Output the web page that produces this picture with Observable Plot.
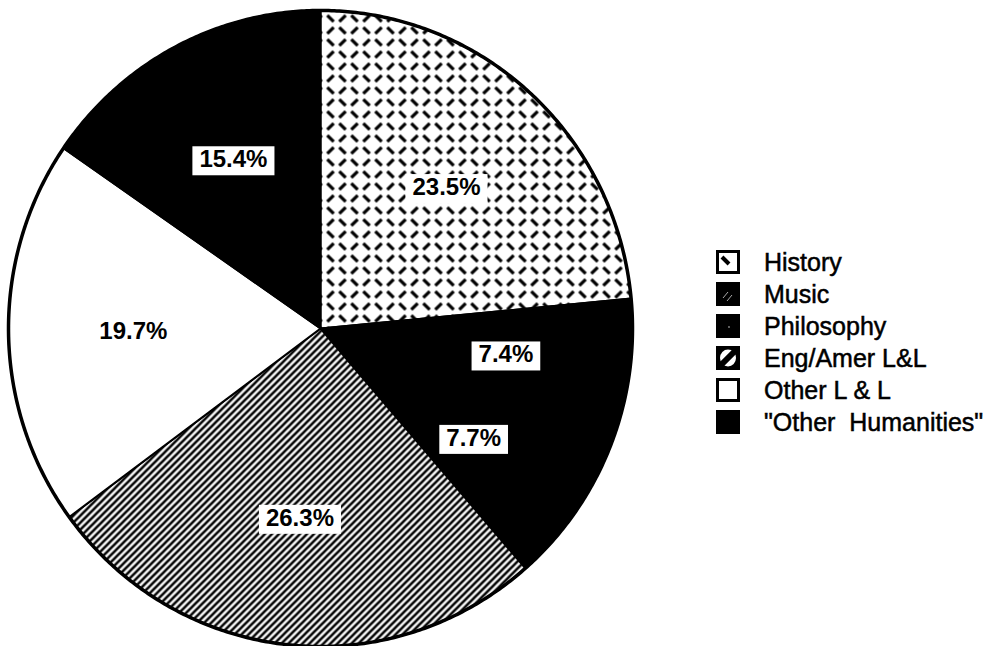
<!DOCTYPE html>
<html><head><meta charset="utf-8">
<script src="https://cdn.jsdelivr.net/npm/d3@7"></script>
<script src="https://cdn.jsdelivr.net/npm/@observablehq/plot@0.6"></script>
<style>
body{margin:0;background:#fff;}
#wrap{position:relative;width:989px;height:646px;overflow:hidden;background:#fff;}
#wrap > svg{position:absolute;left:0;top:0;}
#legend{position:absolute;left:716px;top:246px;font-family:"Liberation Sans",Arial,sans-serif;font-size:25px;color:#000;-webkit-text-stroke:0.5px #000;}
.row{display:flex;align-items:center;height:32px;white-space:pre;}
.row svg{width:24px;height:24px;margin-right:24px;flex:none;}
</style></head>
<body>
<svg width="0" height="0" style="position:absolute">
<defs>
<pattern id="hist" patternUnits="userSpaceOnUse" width="24" height="24">
<rect width="24" height="24" fill="white"/>
<path d="M2.8,2.8L9.2,9.2 M14.8,9.2L21.2,2.8 M2.8,21.2L9.2,14.8 M14.8,14.8L21.2,21.2" stroke="black" stroke-width="3.2"/>
</pattern>
<pattern id="hatch" patternUnits="userSpaceOnUse" width="7" height="7">
<rect width="7" height="7" fill="white"/>
<path d="M0,7L7,0 M-1,1L1,-1 M6,8L8,6" stroke="black" stroke-width="2.6"/>
</pattern>
</defs></svg>
<div id="wrap"><div id="legend"></div></div>
<script>
// ---- data ----
const categories = ["History", "Music", "Philosophy", "Eng/Amer L&L", "Other L & L", "\"Other  Humanities\""];
const shares = [23.5, 7.4, 7.7, 26.3, 19.7, 15.4];
const labels = ["23.5%", "7.4%", "7.7%", "26.3%", "19.7%", "15.4%"];

// ---- styles ----
const sliceFill = {
  "History": "url(#hist)",
  "Music": "black",
  "Philosophy": "black",
  "Eng/Amer L&L": "url(#hatch)",
  "Other L & L": "white",
  "\"Other  Humanities\"": "black"
};
const swatch = {
  "History": '<rect x="1.5" y="1.5" width="21" height="21" fill="white" stroke="black" stroke-width="3"/><path d="M6,7L13,14" stroke="black" stroke-width="4"/>',
  "Music": '<rect width="24" height="24" fill="black"/><path d="M7,16L12,10 M11,19L16,13" stroke="#aaa" stroke-width="1"/>',
  "Philosophy": '<rect width="24" height="24" fill="black"/><circle cx="13" cy="13" r="0.9" fill="#888"/>',
  "Eng/Amer L&L": '<rect width="24" height="24" fill="black"/><ellipse cx="12" cy="12" rx="8" ry="8.5" fill="white"/><path d="M6,18L18,6" stroke="black" stroke-width="6" stroke-linecap="round"/>',
  "Other L & L": '<rect x="1.5" y="1.5" width="21" height="21" fill="white" stroke="black" stroke-width="3"/>',
  "\"Other  Humanities\"": '<rect width="24" height="24" fill="black"/>'
};

// ---- geometry from data ----
const arcs = d3.pie().sort(null).value(d => d)(shares);
const slicePts = [];
arcs.forEach((p, i) => {
  const cat = categories[i];
  slicePts.push({cat, x: 0, y: 0});
  const n = Math.max(2, Math.ceil((p.endAngle - p.startAngle) / 0.005));
  for (let k = 0; k <= n; k++) {
    const a = p.startAngle + (p.endAngle - p.startAngle) * k / n;
    slicePts.push({cat, x: Math.sin(a), y: Math.cos(a)});
  }
});
const rimPts = d3.range(0, 721).map(k => ({x: Math.sin(k * Math.PI / 360), y: Math.cos(k * Math.PI / 360)}));
const labelR = 0.6;
const labelData = arcs.map((p, i) => {
  const a = (p.startAngle + p.endAngle) / 2;
  return {text: labels[i], x: labelR * Math.sin(a), y: labelR * Math.cos(a)};
});

const chart = Plot.plot({
  width: 989,
  height: 646,
  x: {domain: [-1, 1], range: [8, 632], axis: null},
  y: {domain: [-1, 1], range: [646, 10], axis: null},
  color: {type: "identity"},
  style: {background: "transparent", overflow: "visible", fontFamily: "Liberation Sans, Arial, sans-serif"},
  marks: [
    Plot.line(slicePts, {x: "x", y: "y", z: "cat", fill: d => sliceFill[d.cat], stroke: "black", strokeWidth: 2, curve: "linear-closed"}),
    Plot.line(rimPts, {x: "x", y: "y", stroke: "black", strokeWidth: 3.5}),
    Plot.text(labelData, {x: "x", y: "y", text: "text", fontSize: 24, fontWeight: "bold", fill: "black"})
  ]
});
const wrap = document.getElementById("wrap");
wrap.insertBefore(chart, wrap.firstChild);

// white boxes behind percentage labels
chart.querySelectorAll('g[aria-label="text"] text').forEach(t => {
  const b = t.getBBox();
  const r = document.createElementNS("http://www.w3.org/2000/svg", "rect");
  r.setAttribute("x", b.x - 7);
  r.setAttribute("y", b.y + 1);
  r.setAttribute("width", b.width + 14);
  r.setAttribute("height", b.height + 2);
  r.setAttribute("fill", "white");
  if (t.getAttribute("transform")) r.setAttribute("transform", t.getAttribute("transform"));
  t.parentNode.insertBefore(r, t);
});

// legend
const legend = document.getElementById("legend");
categories.forEach(c => {
  const row = document.createElement("div");
  row.className = "row";
  row.innerHTML = '<svg viewBox="0 0 24 24">' + swatch[c] + '</svg>';
  const span = document.createElement("span");
  span.textContent = c;
  row.appendChild(span);
  legend.appendChild(row);
});
</script>
</body></html>
